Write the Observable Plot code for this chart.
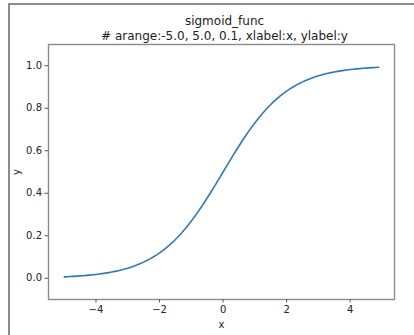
<!DOCTYPE html>
<html>
<head>
<meta charset="utf-8">
<script src="https://cdn.jsdelivr.net/npm/d3@7"></script>
<script src="https://cdn.jsdelivr.net/npm/@observablehq/plot@0.6"></script>
<style>
  html, body { margin: 0; padding: 0; background: #fff; }
  #wrap { position: relative; width: 414px; height: 335px; overflow: hidden; background: #fff; }
  #frame { position: absolute; left: 8px; top: 3px; width: 420px; height: 340px;
           border-left: 2px solid #8c8c8c; border-top: 2px solid #8c8c8c; }
  #chart { position: absolute; left: 0; top: 0; }
  svg { font-family: "DejaVu Sans", sans-serif; }
</style>
</head>
<body>
<div id="wrap"><div id="frame"></div><div id="chart"></div></div>
<script>
const title = "sigmoid_func";
const subtitle = "# arange:-5.0, 5.0, 0.1, xlabel:x, ylabel:y";
const xLabel = "x";
const yLabel = "y";
const xStart = -5.0, xStep = 0.1;
const yValues = [
  0.0067, 0.0074, 0.0082, 0.0090, 0.0100, 0.0110, 0.0121, 0.0134, 0.0148, 0.0163,
  0.0180, 0.0198, 0.0219, 0.0241, 0.0266, 0.0293, 0.0323, 0.0356, 0.0392, 0.0431,
  0.0474, 0.0522, 0.0573, 0.0630, 0.0691, 0.0759, 0.0832, 0.0911, 0.0998, 0.1091,
  0.1192, 0.1301, 0.1419, 0.1545, 0.1680, 0.1824, 0.1978, 0.2142, 0.2315, 0.2497,
  0.2689, 0.2891, 0.3100, 0.3318, 0.3543, 0.3775, 0.4013, 0.4256, 0.4502, 0.4750,
  0.5000, 0.5250, 0.5498, 0.5744, 0.5987, 0.6225, 0.6457, 0.6682, 0.6900, 0.7109,
  0.7311, 0.7503, 0.7685, 0.7858, 0.8022, 0.8176, 0.8320, 0.8455, 0.8581, 0.8699,
  0.8808, 0.8909, 0.9002, 0.9089, 0.9168, 0.9241, 0.9309, 0.9370, 0.9427, 0.9478,
  0.9526, 0.9569, 0.9608, 0.9644, 0.9677, 0.9707, 0.9734, 0.9759, 0.9781, 0.9802,
  0.9820, 0.9837, 0.9852, 0.9866, 0.9879, 0.9890, 0.9900, 0.9910, 0.9918, 0.9926
];
const xTicks = [-4, -2, 0, 2, 4];
const yTicks = [0.0, 0.2, 0.4, 0.6, 0.8, 1.0];

const data = yValues.map((y, i) => ({x: +(xStart + i * xStep).toFixed(1), y}));

const chart = Plot.plot({
  width: 414,
  height: 335,
  marginLeft: 48,
  marginRight: 20,
  marginTop: 44,
  marginBottom: 36,
  style: {fontFamily: "DejaVu Sans, sans-serif", fontSize: "10px", color: "#222", background: "transparent"},
  x: {domain: [-5.495, 5.395]},
  y: {domain: [-0.1, 1.1]},
  marks: [
    Plot.line(data, {x: "x", y: "y", stroke: "#2f7ab5", strokeWidth: 1.6}),
    Plot.frame({stroke: "#8c8c8c", strokeWidth: 1.4}),
    Plot.axisX({ticks: xTicks, tickSize: 3.5, tickPadding: 3, stroke: "#555",
      label: xLabel, labelAnchor: "center", labelArrow: "none", labelOffset: 28, fontSize: 10}),
    Plot.axisY({ticks: yTicks, tickSize: 3.5, tickPadding: 3, stroke: "#555", tickFormat: d3.format(".1f"),
      label: yLabel, labelAnchor: "center", labelArrow: "none", labelOffset: 36, fontSize: 10}),
    Plot.text([title], {frameAnchor: "top", lineAnchor: "middle", text: d => d, dy: -23, dx: 3, fontSize: 12, fill: "#222"}),
    Plot.text([subtitle], {frameAnchor: "top", lineAnchor: "middle", text: d => d, dy: -8, dx: 3, fontSize: 12, fill: "#222"})
  ]
});
document.getElementById("chart").appendChild(chart);
</script>
</body>
</html>
